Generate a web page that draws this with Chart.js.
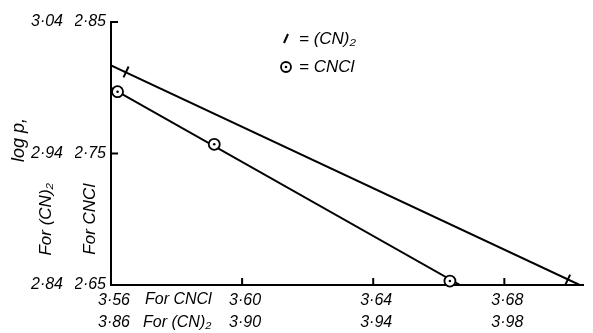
<!DOCTYPE html>
<html>
<head>
<meta charset="utf-8">
<script src="https://cdn.jsdelivr.net/npm/chart.js@4.4.1/dist/chart.umd.min.js"></script>
<style>
	body { margin: 0; background: #fff; }
</style>
</head>
<body>
<canvas id="chart" width="593" height="333"></canvas>
<script>
// tick values, CNCl scale (inner) and (CN)2 scale (outer)
const xTicksCNCl = [3.56, 3.60, 3.64, 3.68];
const xTicksCN2 = [3.86, 3.90, 3.94, 3.98];
const yTicksCNCl = [2.65, 2.75, 2.85];
const yTicksCN2 = [2.84, 2.94, 3.04];

// CNCl observations and drawn line
const cnclX = [3.562, 3.5915, 3.6634];
const cnclY = [2.797, 2.757, 2.653];
const cnclFitX = [3.56, 3.6665];
const cnclFitY = [2.800, 2.65];

// (CN)2 observations and drawn line
const cn2X = [3.8646, 3.9993];
const cn2Y = [3.002, 2.8438];
const cn2FitX = [3.86, 4.003];
const cn2FitY = [3.007, 2.84];

const toPoints = (xs, ys) => xs.map((x, i) => ({x: x, y: ys[i]}));
const fmt = v => v.toFixed(2).replace('.', '·');
const family = '"Liberation Sans"';
const tickFont = {family: 'Liberation Sans', style: 'italic', size: 16};

const decor = {
	id: 'decor',
	afterDraw(chart) {
		const {ctx, chartArea: a, scales: {x, y}} = chart;
		ctx.save();
		ctx.strokeStyle = '#000';
		ctx.fillStyle = '#000';
		ctx.lineWidth = 2;

		// inward tick marks
		ctx.beginPath();
		xTicksCNCl.slice(1).forEach(v => {
			const px = x.getPixelForValue(v);
			ctx.moveTo(px, a.bottom);
			ctx.lineTo(px, a.bottom - 7);
		});
		yTicksCNCl.slice(1).forEach(v => {
			const py = y.getPixelForValue(v);
			ctx.moveTo(a.left, py);
			ctx.lineTo(a.left + 7, py);
		});
		ctx.stroke();

		// "For ..." after first x labels
		ctx.font = 'italic 16px ' + family;
		ctx.textAlign = 'left';
		ctx.textBaseline = 'middle';
		const x0 = x.getPixelForValue(xTicksCNCl[0]);
		ctx.fillText('For CNCl', x0 + 34, 300);
		ctx.fillText('For (CN)₂', x0 + 32, 323);

		// vertical labels on the left
		const midY = (y.getPixelForValue(2.75) + y.getPixelForValue(2.65)) / 2;
		const vtext = (txt, cx, cy, size) => {
			ctx.save();
			ctx.translate(cx, cy);
			ctx.rotate(-Math.PI / 2);
			ctx.font = 'italic ' + size + 'px ' + family;
			ctx.textAlign = 'center';
			ctx.fillText(txt, 0, 0);
			ctx.restore();
		};
		vtext('For (CN)₂', 46, midY, 17);
		vtext('For CNCl', 90, midY, 17);
		vtext('log p,', 19, 140, 18);

		// legend
		ctx.lineWidth = 2;
		ctx.beginPath();
		ctx.moveTo(284, 43);
		ctx.lineTo(288, 34);
		ctx.stroke();
		ctx.lineWidth = 1.8;
		ctx.beginPath();
		ctx.arc(286, 67, 5, 0, Math.PI * 2);
		ctx.stroke();
		ctx.beginPath();
		ctx.arc(286, 67, 1.3, 0, Math.PI * 2);
		ctx.fill();
		ctx.font = 'italic 17px ' + family;
		ctx.textAlign = 'left';
		ctx.fillText('= (CN)₂', 299, 39);
		ctx.fillText('= CNCl', 299, 67);
		ctx.restore();
	}
};

const ctx = document.getElementById('chart').getContext('2d');
new Chart(ctx, {
	type: 'scatter',
	data: {
		datasets: [
			{
				label: 'CNCl line',
				data: toPoints(cnclFitX, cnclFitY),
				showLine: true,
				borderColor: '#000',
				borderWidth: 2,
				pointRadius: 0,
				order: 3,
				xAxisID: 'x',
				yAxisID: 'y'
			},
			{
				label: '(CN)2 line',
				data: toPoints(cn2FitX, cn2FitY),
				showLine: true,
				borderColor: '#000',
				borderWidth: 2,
				pointRadius: 0,
				order: 3,
				xAxisID: 'x2',
				yAxisID: 'y2'
			},
			{
				label: 'CNCl',
				data: toPoints(cnclX, cnclY),
				pointStyle: 'circle',
				pointRadius: 5.5,
				pointBackgroundColor: '#fff',
				pointBorderColor: '#000',
				pointBorderWidth: 1.8,
				clip: false,
				order: 2,
				xAxisID: 'x',
				yAxisID: 'y'
			},
			{
				label: 'CNCl centre',
				data: toPoints(cnclX, cnclY),
				pointStyle: 'circle',
				pointRadius: 1.3,
				pointBackgroundColor: '#000',
				pointBorderColor: '#000',
				pointBorderWidth: 0,
				clip: false,
				order: 1,
				xAxisID: 'x',
				yAxisID: 'y'
			},
			{
				label: '(CN)2',
				data: toPoints(cn2X, cn2Y),
				pointStyle: 'line',
				pointRadius: 6,
				rotation: -65,
				pointBorderColor: '#000',
				pointBorderWidth: 2,
				clip: false,
				order: 1,
				xAxisID: 'x2',
				yAxisID: 'y2'
			}
		]
	},
	options: {
		responsive: false,
		animation: false,
		devicePixelRatio: 1,
		layout: {padding: {left: 30, top: 22, right: 10, bottom: 0}},
		plugins: {legend: {display: false}, tooltip: {enabled: false}},
		scales: {
			x: {
				type: 'linear',
				position: 'bottom',
				min: 3.56,
				max: 3.704,
				afterBuildTicks: s => { s.ticks = xTicksCNCl.map(v => ({value: v})); },
				afterFit: s => { s.height = 25; },
				ticks: {callback: fmt, font: tickFont, color: '#000', padding: 6, labelOffset: 3, autoSkip: false, maxRotation: 0},
				grid: {drawOnChartArea: false, drawTicks: false},
				border: {color: '#000', width: 2}
			},
			x2: {
				type: 'linear',
				position: 'bottom',
				min: 3.86,
				max: 4.004,
				afterBuildTicks: s => { s.ticks = xTicksCN2.map(v => ({value: v})); },
				afterFit: s => { s.height = 23; },
				ticks: {callback: fmt, font: tickFont, color: '#000', padding: 3, labelOffset: 3, autoSkip: false, maxRotation: 0},
				grid: {display: false, drawTicks: false},
				border: {display: false}
			},
			y: {
				type: 'linear',
				position: 'left',
				min: 2.65,
				max: 2.85,
				afterBuildTicks: s => { s.ticks = yTicksCNCl.map(v => ({value: v})); },
				afterFit: s => { s.width = 36; },
				ticks: {callback: fmt, font: tickFont, color: '#000', padding: 5},
				grid: {drawOnChartArea: false, drawTicks: false},
				border: {color: '#000', width: 2}
			},
			y2: {
				type: 'linear',
				position: 'left',
				min: 2.84,
				max: 3.04,
				afterBuildTicks: s => { s.ticks = yTicksCN2.map(v => ({value: v})); },
				afterFit: s => { s.width = 45; },
				ticks: {callback: fmt, font: tickFont, color: '#000', padding: 12},
				grid: {display: false, drawTicks: false},
				border: {display: false}
			}
		}
	},
	plugins: [decor]
});
</script>
</body>
</html>
